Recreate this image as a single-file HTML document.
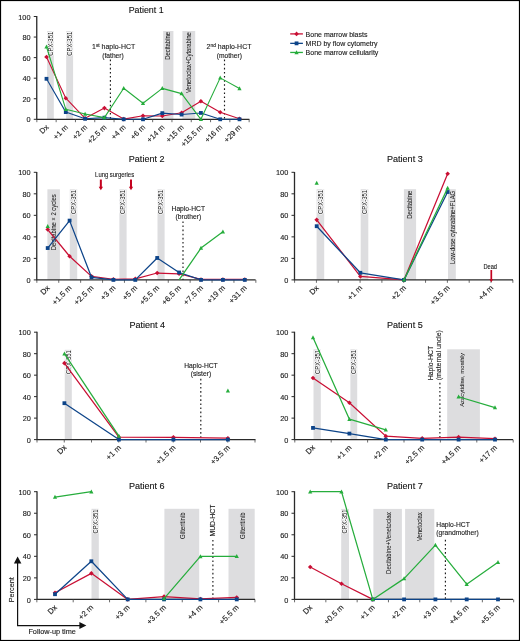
<!DOCTYPE html>
<html><head><meta charset="utf-8"><style>
html,body{margin:0;padding:0;background:#fff;}
svg{display:block;font-family:"Liberation Sans", sans-serif;filter:blur(0.3px);}
text{stroke:#1a1a1a;stroke-width:0.12px;}
text.bt{stroke-width:0.04px;}
text.halo{stroke:#fff;stroke-width:1.6px;stroke-linejoin:round;}
</style></head><body>
<svg width="520" height="641" viewBox="0 0 520 641">
<rect x="0" y="0" width="520" height="641" fill="#fff"/>
<rect x="47.1" y="31" width="6.7" height="88.3" fill="#dddddf"/>
<rect x="66.2" y="31" width="6.9" height="88.3" fill="#dddddf"/>
<rect x="163.2" y="31" width="10.2" height="88.3" fill="#dddddf"/>
<rect x="182.4" y="31" width="12.8" height="88.3" fill="#dddddf"/>
<text class="halo" transform="translate(50.9 31.8) rotate(-90) scale(0.89 1)" text-anchor="end" font-size="6.63" dy="0.36em" fill="#fff">CPX-351</text>
<text class="bt" transform="translate(50.9 31.8) rotate(-90) scale(0.89 1)" text-anchor="end" font-size="6.63" dy="0.36em" fill="#1a1a1a">CPX-351</text>
<text class="halo" transform="translate(69.6 31.8) rotate(-90) scale(0.89 1)" text-anchor="end" font-size="6.63" dy="0.36em" fill="#fff">CPX-351</text>
<text class="bt" transform="translate(69.6 31.8) rotate(-90) scale(0.89 1)" text-anchor="end" font-size="6.63" dy="0.36em" fill="#1a1a1a">CPX-351</text>
<text class="bt" transform="translate(168 32) rotate(-90) scale(0.89 1)" text-anchor="end" font-size="6.63" dy="0.36em" fill="#1a1a1a">Decitabine</text>
<text class="bt" transform="translate(188.8 32.3) rotate(-90) scale(0.89 1)" text-anchor="end" font-size="6.63" dy="0.36em" fill="#1a1a1a">Venetoclax+Cytarabine</text>
<line x1="110.4" y1="59.6" x2="110.4" y2="119.3" stroke="#1a1a1a" stroke-width="1.15" stroke-dasharray="1.6 2.5"/>
<line x1="224.5" y1="59.6" x2="224.5" y2="119.3" stroke="#1a1a1a" stroke-width="1.15" stroke-dasharray="1.6 2.5"/>
<path d="M36.75 16.1V119.3H249.4" fill="none" stroke="#2a2a2a" stroke-width="1.3"/>
<line x1="33.75" y1="119.3" x2="36.75" y2="119.3" stroke="#2a2a2a" stroke-width="1"/>
<text x="30.55" y="122.45" text-anchor="end" font-size="7.35" fill="#1a1a1a">0</text>
<line x1="33.75" y1="98.74" x2="36.75" y2="98.74" stroke="#2a2a2a" stroke-width="1"/>
<text x="30.55" y="101.89" text-anchor="end" font-size="7.35" fill="#1a1a1a">20</text>
<line x1="33.75" y1="78.18" x2="36.75" y2="78.18" stroke="#2a2a2a" stroke-width="1"/>
<text x="30.55" y="81.33" text-anchor="end" font-size="7.35" fill="#1a1a1a">40</text>
<line x1="33.75" y1="57.62" x2="36.75" y2="57.62" stroke="#2a2a2a" stroke-width="1"/>
<text x="30.55" y="60.77" text-anchor="end" font-size="7.35" fill="#1a1a1a">60</text>
<line x1="33.75" y1="37.06" x2="36.75" y2="37.06" stroke="#2a2a2a" stroke-width="1"/>
<text x="30.55" y="40.21" text-anchor="end" font-size="7.35" fill="#1a1a1a">80</text>
<line x1="33.75" y1="16.5" x2="36.75" y2="16.5" stroke="#2a2a2a" stroke-width="1"/>
<text x="30.55" y="19.65" text-anchor="end" font-size="7.35" fill="#1a1a1a">100</text>
<line x1="36.85" y1="119.3" x2="36.85" y2="122.2" stroke="#444" stroke-width="0.8"/>
<line x1="56.15" y1="119.3" x2="56.15" y2="122.2" stroke="#444" stroke-width="0.8"/>
<line x1="75.45" y1="119.3" x2="75.45" y2="122.2" stroke="#444" stroke-width="0.8"/>
<line x1="94.75" y1="119.3" x2="94.75" y2="122.2" stroke="#444" stroke-width="0.8"/>
<line x1="114.05" y1="119.3" x2="114.05" y2="122.2" stroke="#444" stroke-width="0.8"/>
<line x1="133.35" y1="119.3" x2="133.35" y2="122.2" stroke="#444" stroke-width="0.8"/>
<line x1="152.65" y1="119.3" x2="152.65" y2="122.2" stroke="#444" stroke-width="0.8"/>
<line x1="171.95" y1="119.3" x2="171.95" y2="122.2" stroke="#444" stroke-width="0.8"/>
<line x1="191.25" y1="119.3" x2="191.25" y2="122.2" stroke="#444" stroke-width="0.8"/>
<line x1="210.55" y1="119.3" x2="210.55" y2="122.2" stroke="#444" stroke-width="0.8"/>
<line x1="229.85" y1="119.3" x2="229.85" y2="122.2" stroke="#444" stroke-width="0.8"/>
<line x1="249.15" y1="119.3" x2="249.15" y2="122.2" stroke="#444" stroke-width="0.8"/>
<text transform="translate(49.1 127.8) rotate(-45)" text-anchor="end" font-size="7.6" fill="#1a1a1a">Dx</text>
<text transform="translate(68.4 127.8) rotate(-45)" text-anchor="end" font-size="7.6" fill="#1a1a1a">+1 m</text>
<text transform="translate(87.7 127.8) rotate(-45)" text-anchor="end" font-size="7.6" fill="#1a1a1a">+2 m</text>
<text transform="translate(107 127.8) rotate(-45)" text-anchor="end" font-size="7.6" fill="#1a1a1a">+2.5 m</text>
<text transform="translate(126.3 127.8) rotate(-45)" text-anchor="end" font-size="7.6" fill="#1a1a1a">+4 m</text>
<text transform="translate(145.6 127.8) rotate(-45)" text-anchor="end" font-size="7.6" fill="#1a1a1a">+6 m</text>
<text transform="translate(164.9 127.8) rotate(-45)" text-anchor="end" font-size="7.6" fill="#1a1a1a">+14 m</text>
<text transform="translate(184.2 127.8) rotate(-45)" text-anchor="end" font-size="7.6" fill="#1a1a1a">+15 m</text>
<text transform="translate(203.5 127.8) rotate(-45)" text-anchor="end" font-size="7.6" fill="#1a1a1a">+15.5 m</text>
<text transform="translate(222.8 127.8) rotate(-45)" text-anchor="end" font-size="7.6" fill="#1a1a1a">+16 m</text>
<text transform="translate(242.1 127.8) rotate(-45)" text-anchor="end" font-size="7.6" fill="#1a1a1a">+29 m</text>
<path d="M46.5 57L65.8 98.23L85.1 118.27L104.4 108.09L123.7 119.09L143 115.7L162.3 116.01L181.6 112.82L200.9 101.21L220.2 112.21L239.5 118.79" fill="none" stroke="#c90f34" stroke-width="1.1" stroke-linejoin="round"/>
<path d="M46.5 54.7L48.8 57L46.5 59.3L44.2 57Z" fill="#c90f34"/>
<path d="M65.8 95.93L68.1 98.23L65.8 100.53L63.5 98.23Z" fill="#c90f34"/>
<path d="M85.1 115.97L87.4 118.27L85.1 120.57L82.8 118.27Z" fill="#c90f34"/>
<path d="M104.4 105.79L106.7 108.09L104.4 110.39L102.1 108.09Z" fill="#c90f34"/>
<path d="M123.7 116.79L126 119.09L123.7 121.39L121.4 119.09Z" fill="#c90f34"/>
<path d="M143 113.4L145.3 115.7L143 118L140.7 115.7Z" fill="#c90f34"/>
<path d="M162.3 113.71L164.6 116.01L162.3 118.31L160 116.01Z" fill="#c90f34"/>
<path d="M181.6 110.52L183.9 112.82L181.6 115.12L179.3 112.82Z" fill="#c90f34"/>
<path d="M200.9 98.91L203.2 101.21L200.9 103.51L198.6 101.21Z" fill="#c90f34"/>
<path d="M220.2 109.91L222.5 112.21L220.2 114.51L217.9 112.21Z" fill="#c90f34"/>
<path d="M239.5 116.49L241.8 118.79L239.5 121.09L237.2 118.79Z" fill="#c90f34"/>
<path d="M46.5 78.8L65.8 112.1L85.1 118.79L104.4 117.66L123.7 119.3L143 119.3L162.3 113.13L181.6 114.57L200.9 112.93L220.2 119.3L239.5 119.3" fill="none" stroke="#0d4489" stroke-width="1.1" stroke-linejoin="round"/>
<rect x="44.6" y="76.9" width="3.8" height="3.8" fill="#0d4489"/>
<rect x="63.9" y="110.2" width="3.8" height="3.8" fill="#0d4489"/>
<rect x="83.2" y="116.89" width="3.8" height="3.8" fill="#0d4489"/>
<rect x="102.5" y="115.76" width="3.8" height="3.8" fill="#0d4489"/>
<rect x="121.8" y="117.4" width="3.8" height="3.8" fill="#0d4489"/>
<rect x="141.1" y="117.4" width="3.8" height="3.8" fill="#0d4489"/>
<rect x="160.4" y="111.23" width="3.8" height="3.8" fill="#0d4489"/>
<rect x="179.7" y="112.67" width="3.8" height="3.8" fill="#0d4489"/>
<rect x="199" y="111.03" width="3.8" height="3.8" fill="#0d4489"/>
<rect x="218.3" y="117.4" width="3.8" height="3.8" fill="#0d4489"/>
<rect x="237.6" y="117.4" width="3.8" height="3.8" fill="#0d4489"/>
<path d="M46.5 46.72L65.8 109.33L85.1 114.06L104.4 117.66L123.7 88.25L143 103.26L162.3 88.36L181.6 93.6L200.9 119.3L220.2 77.87L239.5 88.46" fill="none" stroke="#26ad3c" stroke-width="1.1" stroke-linejoin="round"/>
<path d="M46.5 44.42L48.6 48.42L44.4 48.42Z" fill="#26ad3c"/>
<path d="M65.8 107.03L67.9 111.03L63.7 111.03Z" fill="#26ad3c"/>
<path d="M85.1 111.76L87.2 115.76L83 115.76Z" fill="#26ad3c"/>
<path d="M104.4 115.36L106.5 119.36L102.3 119.36Z" fill="#26ad3c"/>
<path d="M123.7 85.95L125.8 89.95L121.6 89.95Z" fill="#26ad3c"/>
<path d="M143 100.96L145.1 104.96L140.9 104.96Z" fill="#26ad3c"/>
<path d="M162.3 86.06L164.4 90.06L160.2 90.06Z" fill="#26ad3c"/>
<path d="M181.6 91.3L183.7 95.3L179.5 95.3Z" fill="#26ad3c"/>
<path d="M200.9 117L203 121L198.8 121Z" fill="#26ad3c"/>
<path d="M220.2 75.57L222.3 79.57L218.1 79.57Z" fill="#26ad3c"/>
<path d="M239.5 86.16L241.6 90.16L237.4 90.16Z" fill="#26ad3c"/>
<text x="128.7" y="13.1" font-size="8.85" fill="#111">Patient 1</text>
<text x="113.6" y="49.1" text-anchor="middle" font-size="6.95" fill="#1a1a1a">1<tspan font-size="4.9" dy="-2.5">st</tspan><tspan dy="2.5"> haplo-HCT</tspan></text>
<text x="113" y="57.5" text-anchor="middle" font-size="6.7" fill="#1a1a1a">(father)</text>
<text x="229" y="49.1" text-anchor="middle" font-size="6.95" fill="#1a1a1a">2<tspan font-size="4.9" dy="-2.5">nd</tspan><tspan dy="2.5"> haplo-HCT</tspan></text>
<text x="229.3" y="57.5" text-anchor="middle" font-size="6.7" fill="#1a1a1a">(mother)</text>
<rect x="47.4" y="189.3" width="12.5" height="90.6" fill="#dddddf"/>
<rect x="69.8" y="189.3" width="7.4" height="90.6" fill="#dddddf"/>
<rect x="119.4" y="189.3" width="7.2" height="90.6" fill="#dddddf"/>
<rect x="157.5" y="189.3" width="7.1" height="90.6" fill="#dddddf"/>
<text class="bt" transform="translate(53.4 194.3) rotate(-90) scale(0.89 1)" text-anchor="end" font-size="6.63" dy="0.36em" fill="#1a1a1a">Decitabine × 2 cycles</text>
<text class="halo" transform="translate(73.5 190) rotate(-90) scale(0.89 1)" text-anchor="end" font-size="6.63" dy="0.36em" fill="#fff">CPX-351</text>
<text class="bt" transform="translate(73.5 190) rotate(-90) scale(0.89 1)" text-anchor="end" font-size="6.63" dy="0.36em" fill="#1a1a1a">CPX-351</text>
<text class="halo" transform="translate(123 190) rotate(-90) scale(0.89 1)" text-anchor="end" font-size="6.63" dy="0.36em" fill="#fff">CPX-351</text>
<text class="bt" transform="translate(123 190) rotate(-90) scale(0.89 1)" text-anchor="end" font-size="6.63" dy="0.36em" fill="#1a1a1a">CPX-351</text>
<text class="halo" transform="translate(161.1 190) rotate(-90) scale(0.89 1)" text-anchor="end" font-size="6.63" dy="0.36em" fill="#fff">CPX-351</text>
<text class="bt" transform="translate(161.1 190) rotate(-90) scale(0.89 1)" text-anchor="end" font-size="6.63" dy="0.36em" fill="#1a1a1a">CPX-351</text>
<line x1="183" y1="221.4" x2="183" y2="279.9" stroke="#1a1a1a" stroke-width="1.15" stroke-dasharray="1.6 2.5"/>
<path d="M36.75 171.9V279.9H255.6" fill="none" stroke="#2a2a2a" stroke-width="1.3"/>
<line x1="33.75" y1="279.9" x2="36.75" y2="279.9" stroke="#2a2a2a" stroke-width="1"/>
<text x="30.55" y="283.05" text-anchor="end" font-size="7.35" fill="#1a1a1a">0</text>
<line x1="33.75" y1="258.38" x2="36.75" y2="258.38" stroke="#2a2a2a" stroke-width="1"/>
<text x="30.55" y="261.53" text-anchor="end" font-size="7.35" fill="#1a1a1a">20</text>
<line x1="33.75" y1="236.86" x2="36.75" y2="236.86" stroke="#2a2a2a" stroke-width="1"/>
<text x="30.55" y="240.01" text-anchor="end" font-size="7.35" fill="#1a1a1a">40</text>
<line x1="33.75" y1="215.34" x2="36.75" y2="215.34" stroke="#2a2a2a" stroke-width="1"/>
<text x="30.55" y="218.49" text-anchor="end" font-size="7.35" fill="#1a1a1a">60</text>
<line x1="33.75" y1="193.82" x2="36.75" y2="193.82" stroke="#2a2a2a" stroke-width="1"/>
<text x="30.55" y="196.97" text-anchor="end" font-size="7.35" fill="#1a1a1a">80</text>
<line x1="33.75" y1="172.3" x2="36.75" y2="172.3" stroke="#2a2a2a" stroke-width="1"/>
<text x="30.55" y="175.45" text-anchor="end" font-size="7.35" fill="#1a1a1a">100</text>
<line x1="36.85" y1="279.9" x2="36.85" y2="282.8" stroke="#444" stroke-width="0.8"/>
<line x1="58.75" y1="279.9" x2="58.75" y2="282.8" stroke="#444" stroke-width="0.8"/>
<line x1="80.65" y1="279.9" x2="80.65" y2="282.8" stroke="#444" stroke-width="0.8"/>
<line x1="102.55" y1="279.9" x2="102.55" y2="282.8" stroke="#444" stroke-width="0.8"/>
<line x1="124.45" y1="279.9" x2="124.45" y2="282.8" stroke="#444" stroke-width="0.8"/>
<line x1="146.35" y1="279.9" x2="146.35" y2="282.8" stroke="#444" stroke-width="0.8"/>
<line x1="168.25" y1="279.9" x2="168.25" y2="282.8" stroke="#444" stroke-width="0.8"/>
<line x1="190.15" y1="279.9" x2="190.15" y2="282.8" stroke="#444" stroke-width="0.8"/>
<line x1="212.05" y1="279.9" x2="212.05" y2="282.8" stroke="#444" stroke-width="0.8"/>
<line x1="233.95" y1="279.9" x2="233.95" y2="282.8" stroke="#444" stroke-width="0.8"/>
<line x1="255.85" y1="279.9" x2="255.85" y2="282.8" stroke="#444" stroke-width="0.8"/>
<text transform="translate(50.3 288.4) rotate(-45)" text-anchor="end" font-size="7.8" fill="#1a1a1a">Dx</text>
<text transform="translate(72.2 288.4) rotate(-45)" text-anchor="end" font-size="7.8" fill="#1a1a1a">+1.5 m</text>
<text transform="translate(94.1 288.4) rotate(-45)" text-anchor="end" font-size="7.8" fill="#1a1a1a">+2.5 m</text>
<text transform="translate(116 288.4) rotate(-45)" text-anchor="end" font-size="7.8" fill="#1a1a1a">+3 m</text>
<text transform="translate(137.9 288.4) rotate(-45)" text-anchor="end" font-size="7.8" fill="#1a1a1a">+5 m</text>
<text transform="translate(159.8 288.4) rotate(-45)" text-anchor="end" font-size="7.8" fill="#1a1a1a">+5.5 m</text>
<text transform="translate(181.7 288.4) rotate(-45)" text-anchor="end" font-size="7.8" fill="#1a1a1a">+6.5 m</text>
<text transform="translate(203.6 288.4) rotate(-45)" text-anchor="end" font-size="7.8" fill="#1a1a1a">+7.5 m</text>
<text transform="translate(225.5 288.4) rotate(-45)" text-anchor="end" font-size="7.8" fill="#1a1a1a">+19 m</text>
<text transform="translate(247.4 288.4) rotate(-45)" text-anchor="end" font-size="7.8" fill="#1a1a1a">+31 m</text>
<path d="M47.7 229.54L69.6 256.23L91.5 276.35L113.4 279.25L135.3 278.82L157.2 273.01L179.1 273.77L201 279.47L222.9 279.47L244.8 279.47" fill="none" stroke="#c90f34" stroke-width="1.25" stroke-linejoin="round"/>
<path d="M47.7 227.24L50 229.54L47.7 231.84L45.4 229.54Z" fill="#c90f34"/>
<path d="M69.6 253.93L71.9 256.23L69.6 258.53L67.3 256.23Z" fill="#c90f34"/>
<path d="M91.5 274.05L93.8 276.35L91.5 278.65L89.2 276.35Z" fill="#c90f34"/>
<path d="M113.4 276.95L115.7 279.25L113.4 281.55L111.1 279.25Z" fill="#c90f34"/>
<path d="M135.3 276.52L137.6 278.82L135.3 281.12L133 278.82Z" fill="#c90f34"/>
<path d="M157.2 270.71L159.5 273.01L157.2 275.31L154.9 273.01Z" fill="#c90f34"/>
<path d="M179.1 271.47L181.4 273.77L179.1 276.07L176.8 273.77Z" fill="#c90f34"/>
<path d="M201 277.17L203.3 279.47L201 281.77L198.7 279.47Z" fill="#c90f34"/>
<path d="M222.9 277.17L225.2 279.47L222.9 281.77L220.6 279.47Z" fill="#c90f34"/>
<path d="M244.8 277.17L247.1 279.47L244.8 281.77L242.5 279.47Z" fill="#c90f34"/>
<path d="M47.7 248.05L69.6 220.61L91.5 277.32L113.4 279.9L135.3 279.9L157.2 257.95L179.1 272.48L201 279.9L222.9 279.9L244.8 279.9" fill="none" stroke="#0d4489" stroke-width="1.25" stroke-linejoin="round"/>
<rect x="45.8" y="246.15" width="3.8" height="3.8" fill="#0d4489"/>
<rect x="67.7" y="218.71" width="3.8" height="3.8" fill="#0d4489"/>
<rect x="89.6" y="275.42" width="3.8" height="3.8" fill="#0d4489"/>
<rect x="111.5" y="278" width="3.8" height="3.8" fill="#0d4489"/>
<rect x="133.4" y="278" width="3.8" height="3.8" fill="#0d4489"/>
<rect x="155.3" y="256.05" width="3.8" height="3.8" fill="#0d4489"/>
<rect x="177.2" y="270.58" width="3.8" height="3.8" fill="#0d4489"/>
<rect x="199.1" y="278" width="3.8" height="3.8" fill="#0d4489"/>
<rect x="221" y="278" width="3.8" height="3.8" fill="#0d4489"/>
<rect x="242.9" y="278" width="3.8" height="3.8" fill="#0d4489"/>
<path d="M179.1 279.9L201 248.05L222.9 231.8" fill="none" stroke="#26ad3c" stroke-width="1.25" stroke-linejoin="round"/>
<path d="M47.7 224.02L49.8 228.02L45.6 228.02Z" fill="#26ad3c"/>
<path d="M201 245.75L203.1 249.75L198.9 249.75Z" fill="#26ad3c"/>
<path d="M222.9 229.5L225 233.5L220.8 233.5Z" fill="#26ad3c"/>
<text x="128.8" y="162.4" font-size="9.05" fill="#111">Patient 2</text>
<text transform="translate(114.6 177.1) scale(0.89 1)" text-anchor="middle" font-size="6.63" fill="#1a1a1a">Lung surgeries</text>
<line x1="100.85" y1="179.5" x2="100.85" y2="187.1" stroke="#c4021f" stroke-width="2.0"/><path d="M98.7 186.8L103 186.8L100.85 190.3Z" fill="#c4021f"/>
<line x1="131" y1="179.5" x2="131" y2="187.1" stroke="#c4021f" stroke-width="2.0"/><path d="M128.85 186.8L133.15 186.8L131 190.3Z" fill="#c4021f"/>
<text x="188.3" y="210.6" text-anchor="middle" font-size="6.7" fill="#1a1a1a">Haplo-HCT</text>
<text x="188.3" y="219" text-anchor="middle" font-size="6.7" fill="#1a1a1a">(brother)</text>
<rect x="316.6" y="189.2" width="7.6" height="90.7" fill="#dddddf"/>
<rect x="360.7" y="189.2" width="7.6" height="90.7" fill="#dddddf"/>
<rect x="403.9" y="189.2" width="12.2" height="90.7" fill="#dddddf"/>
<rect x="448" y="189.2" width="7.8" height="90.7" fill="#dddddf"/>
<text class="halo" transform="translate(320.4 190) rotate(-90) scale(0.89 1)" text-anchor="end" font-size="6.63" dy="0.36em" fill="#fff">CPX-351</text>
<text class="bt" transform="translate(320.4 190) rotate(-90) scale(0.89 1)" text-anchor="end" font-size="6.63" dy="0.36em" fill="#1a1a1a">CPX-351</text>
<text class="halo" transform="translate(364.5 190) rotate(-90) scale(0.89 1)" text-anchor="end" font-size="6.63" dy="0.36em" fill="#fff">CPX-351</text>
<text class="bt" transform="translate(364.5 190) rotate(-90) scale(0.89 1)" text-anchor="end" font-size="6.63" dy="0.36em" fill="#1a1a1a">CPX-351</text>
<text class="bt" transform="translate(410 190.8) rotate(-90) scale(0.89 1)" text-anchor="end" font-size="6.63" dy="0.36em" fill="#1a1a1a">Decitabine</text>
<text class="bt" transform="translate(452.3 190.8) rotate(-90) scale(0.89 1)" text-anchor="end" font-size="6.63" dy="0.36em" fill="#1a1a1a">Low-dose cytarabine+FLAG</text>
<path d="M294.5 171.9V279.9H513" fill="none" stroke="#2a2a2a" stroke-width="1.3"/>
<line x1="291.5" y1="279.9" x2="294.5" y2="279.9" stroke="#2a2a2a" stroke-width="1"/>
<text x="288.3" y="283.05" text-anchor="end" font-size="7.35" fill="#1a1a1a">0</text>
<line x1="291.5" y1="258.38" x2="294.5" y2="258.38" stroke="#2a2a2a" stroke-width="1"/>
<text x="288.3" y="261.53" text-anchor="end" font-size="7.35" fill="#1a1a1a">20</text>
<line x1="291.5" y1="236.86" x2="294.5" y2="236.86" stroke="#2a2a2a" stroke-width="1"/>
<text x="288.3" y="240.01" text-anchor="end" font-size="7.35" fill="#1a1a1a">40</text>
<line x1="291.5" y1="215.34" x2="294.5" y2="215.34" stroke="#2a2a2a" stroke-width="1"/>
<text x="288.3" y="218.49" text-anchor="end" font-size="7.35" fill="#1a1a1a">60</text>
<line x1="291.5" y1="193.82" x2="294.5" y2="193.82" stroke="#2a2a2a" stroke-width="1"/>
<text x="288.3" y="196.97" text-anchor="end" font-size="7.35" fill="#1a1a1a">80</text>
<line x1="291.5" y1="172.3" x2="294.5" y2="172.3" stroke="#2a2a2a" stroke-width="1"/>
<text x="288.3" y="175.45" text-anchor="end" font-size="7.35" fill="#1a1a1a">100</text>
<line x1="294.6" y1="279.9" x2="294.6" y2="282.8" stroke="#444" stroke-width="0.8"/>
<line x1="316.43" y1="279.9" x2="316.43" y2="282.8" stroke="#444" stroke-width="0.8"/>
<line x1="338.25" y1="279.9" x2="338.25" y2="282.8" stroke="#444" stroke-width="0.8"/>
<line x1="360.08" y1="279.9" x2="360.08" y2="282.8" stroke="#444" stroke-width="0.8"/>
<line x1="381.9" y1="279.9" x2="381.9" y2="282.8" stroke="#444" stroke-width="0.8"/>
<line x1="403.73" y1="279.9" x2="403.73" y2="282.8" stroke="#444" stroke-width="0.8"/>
<line x1="425.55" y1="279.9" x2="425.55" y2="282.8" stroke="#444" stroke-width="0.8"/>
<line x1="447.38" y1="279.9" x2="447.38" y2="282.8" stroke="#444" stroke-width="0.8"/>
<line x1="469.2" y1="279.9" x2="469.2" y2="282.8" stroke="#444" stroke-width="0.8"/>
<line x1="491.02" y1="279.9" x2="491.02" y2="282.8" stroke="#444" stroke-width="0.8"/>
<line x1="512.85" y1="279.9" x2="512.85" y2="282.8" stroke="#444" stroke-width="0.8"/>
<text transform="translate(319.3 288.4) rotate(-45)" text-anchor="end" font-size="7.8" fill="#1a1a1a">Dx</text>
<text transform="translate(362.95 288.4) rotate(-45)" text-anchor="end" font-size="7.8" fill="#1a1a1a">+1 m</text>
<text transform="translate(406.6 288.4) rotate(-45)" text-anchor="end" font-size="7.8" fill="#1a1a1a">+2 m</text>
<text transform="translate(450.25 288.4) rotate(-45)" text-anchor="end" font-size="7.8" fill="#1a1a1a">+3.5 m</text>
<text transform="translate(493.9 288.4) rotate(-45)" text-anchor="end" font-size="7.8" fill="#1a1a1a">+4 m</text>
<path d="M316.7 219.86L360.35 276.46L404 279.9L447.65 173.81" fill="none" stroke="#c90f34" stroke-width="1.25" stroke-linejoin="round"/>
<path d="M316.7 217.56L319 219.86L316.7 222.16L314.4 219.86Z" fill="#c90f34"/>
<path d="M360.35 274.16L362.65 276.46L360.35 278.76L358.05 276.46Z" fill="#c90f34"/>
<path d="M404 277.6L406.3 279.9L404 282.2L401.7 279.9Z" fill="#c90f34"/>
<path d="M447.65 171.51L449.95 173.81L447.65 176.11L445.35 173.81Z" fill="#c90f34"/>
<path d="M316.7 226.21L360.35 272.8L404 279.9L447.65 191.99" fill="none" stroke="#0d4489" stroke-width="1.25" stroke-linejoin="round"/>
<rect x="314.8" y="224.31" width="3.8" height="3.8" fill="#0d4489"/>
<rect x="358.45" y="270.9" width="3.8" height="3.8" fill="#0d4489"/>
<rect x="402.1" y="278" width="3.8" height="3.8" fill="#0d4489"/>
<rect x="445.75" y="190.09" width="3.8" height="3.8" fill="#0d4489"/>
<path d="M404 279.9L447.65 188.12" fill="none" stroke="#26ad3c" stroke-width="1.25" stroke-linejoin="round"/>
<path d="M316.7 180.76L318.8 184.76L314.6 184.76Z" fill="#26ad3c"/>
<path d="M404 277.6L406.1 281.6L401.9 281.6Z" fill="#26ad3c"/>
<path d="M447.65 185.82L449.75 189.82L445.55 189.82Z" fill="#26ad3c"/>
<text x="387" y="162.4" font-size="9.05" fill="#111">Patient 3</text>
<text transform="translate(490.2 268.8) scale(0.89 1)" text-anchor="middle" font-size="6.4" fill="#1a1a1a">Dead</text>
<line x1="491.3" y1="270" x2="491.3" y2="279.5" stroke="#c4021f" stroke-width="1.7"/><path d="M489.4 279.2L493.2 279.2L491.3 282.2Z" fill="#c4021f"/>
<rect x="64.75" y="349.8" width="7.05" height="89.8" fill="#dddddf"/>
<text class="halo" transform="translate(68.3 350.2) rotate(-90) scale(0.89 1)" text-anchor="end" font-size="6.63" dy="0.36em" fill="#fff">CPX-351</text>
<text class="bt" transform="translate(68.3 350.2) rotate(-90) scale(0.89 1)" text-anchor="end" font-size="6.63" dy="0.36em" fill="#1a1a1a">CPX-351</text>
<line x1="200.8" y1="378.8" x2="200.8" y2="439.6" stroke="#1a1a1a" stroke-width="1.15" stroke-dasharray="1.6 2.5"/>
<path d="M37 331.8V439.6H255.5" fill="none" stroke="#2a2a2a" stroke-width="1.3"/>
<line x1="34" y1="439.6" x2="37" y2="439.6" stroke="#2a2a2a" stroke-width="1"/>
<text x="30.8" y="442.75" text-anchor="end" font-size="7.35" fill="#1a1a1a">0</text>
<line x1="34" y1="418.12" x2="37" y2="418.12" stroke="#2a2a2a" stroke-width="1"/>
<text x="30.8" y="421.27" text-anchor="end" font-size="7.35" fill="#1a1a1a">20</text>
<line x1="34" y1="396.64" x2="37" y2="396.64" stroke="#2a2a2a" stroke-width="1"/>
<text x="30.8" y="399.79" text-anchor="end" font-size="7.35" fill="#1a1a1a">40</text>
<line x1="34" y1="375.16" x2="37" y2="375.16" stroke="#2a2a2a" stroke-width="1"/>
<text x="30.8" y="378.31" text-anchor="end" font-size="7.35" fill="#1a1a1a">60</text>
<line x1="34" y1="353.68" x2="37" y2="353.68" stroke="#2a2a2a" stroke-width="1"/>
<text x="30.8" y="356.83" text-anchor="end" font-size="7.35" fill="#1a1a1a">80</text>
<line x1="34" y1="332.2" x2="37" y2="332.2" stroke="#2a2a2a" stroke-width="1"/>
<text x="30.8" y="335.35" text-anchor="end" font-size="7.35" fill="#1a1a1a">100</text>
<line x1="37" y1="439.6" x2="37" y2="442.5" stroke="#444" stroke-width="0.8"/>
<line x1="64.25" y1="439.6" x2="64.25" y2="442.5" stroke="#444" stroke-width="0.8"/>
<line x1="91.5" y1="439.6" x2="91.5" y2="442.5" stroke="#444" stroke-width="0.8"/>
<line x1="118.75" y1="439.6" x2="118.75" y2="442.5" stroke="#444" stroke-width="0.8"/>
<line x1="146" y1="439.6" x2="146" y2="442.5" stroke="#444" stroke-width="0.8"/>
<line x1="173.25" y1="439.6" x2="173.25" y2="442.5" stroke="#444" stroke-width="0.8"/>
<line x1="200.5" y1="439.6" x2="200.5" y2="442.5" stroke="#444" stroke-width="0.8"/>
<line x1="227.75" y1="439.6" x2="227.75" y2="442.5" stroke="#444" stroke-width="0.8"/>
<line x1="255" y1="439.6" x2="255" y2="442.5" stroke="#444" stroke-width="0.8"/>
<text transform="translate(67 448.1) rotate(-45)" text-anchor="end" font-size="7.8" fill="#1a1a1a">Dx</text>
<text transform="translate(121.5 448.1) rotate(-45)" text-anchor="end" font-size="7.8" fill="#1a1a1a">+1 m</text>
<text transform="translate(176 448.1) rotate(-45)" text-anchor="end" font-size="7.8" fill="#1a1a1a">+1.5 m</text>
<text transform="translate(230.5 448.1) rotate(-45)" text-anchor="end" font-size="7.8" fill="#1a1a1a">+3.5 m</text>
<path d="M64.4 363.13L118.9 437.24L173.4 437.34L227.9 438.2" fill="none" stroke="#c90f34" stroke-width="1.25" stroke-linejoin="round"/>
<path d="M64.4 360.83L66.7 363.13L64.4 365.43L62.1 363.13Z" fill="#c90f34"/>
<path d="M118.9 434.94L121.2 437.24L118.9 439.54L116.6 437.24Z" fill="#c90f34"/>
<path d="M173.4 435.04L175.7 437.34L173.4 439.64L171.1 437.34Z" fill="#c90f34"/>
<path d="M227.9 435.9L230.2 438.2L227.9 440.5L225.6 438.2Z" fill="#c90f34"/>
<path d="M64.4 403.19L118.9 439.6L173.4 439.6L227.9 439.6" fill="none" stroke="#0d4489" stroke-width="1.25" stroke-linejoin="round"/>
<rect x="62.5" y="401.29" width="3.8" height="3.8" fill="#0d4489"/>
<rect x="117" y="437.7" width="3.8" height="3.8" fill="#0d4489"/>
<rect x="171.5" y="437.7" width="3.8" height="3.8" fill="#0d4489"/>
<rect x="226" y="437.7" width="3.8" height="3.8" fill="#0d4489"/>
<path d="M64.4 353.68L118.9 436.16" fill="none" stroke="#26ad3c" stroke-width="1.25" stroke-linejoin="round"/>
<path d="M64.4 351.38L66.5 355.38L62.3 355.38Z" fill="#26ad3c"/>
<path d="M118.9 433.86L121 437.86L116.8 437.86Z" fill="#26ad3c"/>
<path d="M227.9 388.54L230 392.54L225.8 392.54Z" fill="#26ad3c"/>
<text x="129.4" y="328.4" font-size="9.05" fill="#111">Patient 4</text>
<text x="201" y="368.1" text-anchor="middle" font-size="6.7" fill="#1a1a1a">Haplo-HCT</text>
<text x="200.9" y="376.3" text-anchor="middle" font-size="6.7" fill="#1a1a1a">(sister)</text>
<rect x="313.5" y="349.3" width="7.3" height="90.3" fill="#dddddf"/>
<rect x="350.4" y="349.3" width="6.8" height="90.3" fill="#dddddf"/>
<rect x="447.2" y="349.3" width="32.7" height="90.3" fill="#dddddf"/>
<text class="halo" transform="translate(317.2 350) rotate(-90) scale(0.89 1)" text-anchor="end" font-size="6.63" dy="0.36em" fill="#fff">CPX-351</text>
<text class="bt" transform="translate(317.2 350) rotate(-90) scale(0.89 1)" text-anchor="end" font-size="6.63" dy="0.36em" fill="#1a1a1a">CPX-351</text>
<text class="halo" transform="translate(353.8 350) rotate(-90) scale(0.89 1)" text-anchor="end" font-size="6.63" dy="0.36em" fill="#fff">CPX-351</text>
<text class="bt" transform="translate(353.8 350) rotate(-90) scale(0.89 1)" text-anchor="end" font-size="6.63" dy="0.36em" fill="#1a1a1a">CPX-351</text>
<text class="bt" transform="translate(462.1 353.2) rotate(-90) scale(1.0 1)" text-anchor="end" font-size="5.85" dy="0.36em" fill="#1a1a1a">Azacytidine, monthly</text>
<line x1="439.9" y1="382.8" x2="439.9" y2="439.6" stroke="#1a1a1a" stroke-width="1.15" stroke-dasharray="1.6 2.5"/>
<path d="M294.5 331.8V439.6H513" fill="none" stroke="#2a2a2a" stroke-width="1.3"/>
<line x1="291.5" y1="439.6" x2="294.5" y2="439.6" stroke="#2a2a2a" stroke-width="1"/>
<text x="288.3" y="442.75" text-anchor="end" font-size="7.35" fill="#1a1a1a">0</text>
<line x1="291.5" y1="418.12" x2="294.5" y2="418.12" stroke="#2a2a2a" stroke-width="1"/>
<text x="288.3" y="421.27" text-anchor="end" font-size="7.35" fill="#1a1a1a">20</text>
<line x1="291.5" y1="396.64" x2="294.5" y2="396.64" stroke="#2a2a2a" stroke-width="1"/>
<text x="288.3" y="399.79" text-anchor="end" font-size="7.35" fill="#1a1a1a">40</text>
<line x1="291.5" y1="375.16" x2="294.5" y2="375.16" stroke="#2a2a2a" stroke-width="1"/>
<text x="288.3" y="378.31" text-anchor="end" font-size="7.35" fill="#1a1a1a">60</text>
<line x1="291.5" y1="353.68" x2="294.5" y2="353.68" stroke="#2a2a2a" stroke-width="1"/>
<text x="288.3" y="356.83" text-anchor="end" font-size="7.35" fill="#1a1a1a">80</text>
<line x1="291.5" y1="332.2" x2="294.5" y2="332.2" stroke="#2a2a2a" stroke-width="1"/>
<text x="288.3" y="335.35" text-anchor="end" font-size="7.35" fill="#1a1a1a">100</text>
<line x1="294.8" y1="439.6" x2="294.8" y2="442.5" stroke="#444" stroke-width="0.8"/>
<line x1="331.2" y1="439.6" x2="331.2" y2="442.5" stroke="#444" stroke-width="0.8"/>
<line x1="367.6" y1="439.6" x2="367.6" y2="442.5" stroke="#444" stroke-width="0.8"/>
<line x1="404" y1="439.6" x2="404" y2="442.5" stroke="#444" stroke-width="0.8"/>
<line x1="440.4" y1="439.6" x2="440.4" y2="442.5" stroke="#444" stroke-width="0.8"/>
<line x1="476.8" y1="439.6" x2="476.8" y2="442.5" stroke="#444" stroke-width="0.8"/>
<line x1="513.2" y1="439.6" x2="513.2" y2="442.5" stroke="#444" stroke-width="0.8"/>
<text transform="translate(315.6 448.1) rotate(-45)" text-anchor="end" font-size="7.8" fill="#1a1a1a">Dx</text>
<text transform="translate(352 448.1) rotate(-45)" text-anchor="end" font-size="7.8" fill="#1a1a1a">+1 m</text>
<text transform="translate(388.4 448.1) rotate(-45)" text-anchor="end" font-size="7.8" fill="#1a1a1a">+2 m</text>
<text transform="translate(424.8 448.1) rotate(-45)" text-anchor="end" font-size="7.8" fill="#1a1a1a">+2.5 m</text>
<text transform="translate(461.2 448.1) rotate(-45)" text-anchor="end" font-size="7.8" fill="#1a1a1a">+4.5 m</text>
<text transform="translate(497.6 448.1) rotate(-45)" text-anchor="end" font-size="7.8" fill="#1a1a1a">+17 m</text>
<path d="M313 378.06L349.4 402.76L385.8 436.16L422.2 438.42L458.6 437.13L495 438.74" fill="none" stroke="#c90f34" stroke-width="1.25" stroke-linejoin="round"/>
<path d="M313 375.76L315.3 378.06L313 380.36L310.7 378.06Z" fill="#c90f34"/>
<path d="M349.4 400.46L351.7 402.76L349.4 405.06L347.1 402.76Z" fill="#c90f34"/>
<path d="M385.8 433.86L388.1 436.16L385.8 438.46L383.5 436.16Z" fill="#c90f34"/>
<path d="M422.2 436.12L424.5 438.42L422.2 440.72L419.9 438.42Z" fill="#c90f34"/>
<path d="M458.6 434.83L460.9 437.13L458.6 439.43L456.3 437.13Z" fill="#c90f34"/>
<path d="M495 436.44L497.3 438.74L495 441.04L492.7 438.74Z" fill="#c90f34"/>
<path d="M313 427.89L349.4 433.59L385.8 439.6L422.2 439.6L458.6 439.6L495 439.6" fill="none" stroke="#0d4489" stroke-width="1.25" stroke-linejoin="round"/>
<rect x="311.1" y="425.99" width="3.8" height="3.8" fill="#0d4489"/>
<rect x="347.5" y="431.69" width="3.8" height="3.8" fill="#0d4489"/>
<rect x="383.9" y="437.7" width="3.8" height="3.8" fill="#0d4489"/>
<rect x="420.3" y="437.7" width="3.8" height="3.8" fill="#0d4489"/>
<rect x="456.7" y="437.7" width="3.8" height="3.8" fill="#0d4489"/>
<rect x="493.1" y="437.7" width="3.8" height="3.8" fill="#0d4489"/>
<path d="M313 337.46L349.4 419.19L385.8 429.83" fill="none" stroke="#26ad3c" stroke-width="1.25" stroke-linejoin="round"/>
<path d="M458.6 396.75L495 407.59" fill="none" stroke="#26ad3c" stroke-width="1.25" stroke-linejoin="round"/>
<path d="M313 335.16L315.1 339.16L310.9 339.16Z" fill="#26ad3c"/>
<path d="M349.4 416.89L351.5 420.89L347.3 420.89Z" fill="#26ad3c"/>
<path d="M385.8 427.53L387.9 431.53L383.7 431.53Z" fill="#26ad3c"/>
<path d="M458.6 394.45L460.7 398.45L456.5 398.45Z" fill="#26ad3c"/>
<path d="M495 405.29L497.1 409.29L492.9 409.29Z" fill="#26ad3c"/>
<text x="387" y="328.4" font-size="9.05" fill="#111">Patient 5</text>
<text transform="translate(433.2 380.3) rotate(-90)" text-anchor="start" font-size="6.9" fill="#1a1a1a">Haplo-HCT</text>
<text transform="translate(441 380.3) rotate(-90)" text-anchor="start" font-size="6.95" fill="#1a1a1a">(maternal uncle)</text>
<rect x="91.5" y="508.8" width="7.3" height="90.6" fill="#dddddf"/>
<rect x="164.4" y="508.8" width="34.8" height="90.6" fill="#dddddf"/>
<rect x="228.5" y="508.8" width="26.2" height="90.6" fill="#dddddf"/>
<text class="halo" transform="translate(95.2 509.5) rotate(-90) scale(0.89 1)" text-anchor="end" font-size="6.63" dy="0.36em" fill="#fff">CPX-351</text>
<text class="bt" transform="translate(95.2 509.5) rotate(-90) scale(0.89 1)" text-anchor="end" font-size="6.63" dy="0.36em" fill="#1a1a1a">CPX-351</text>
<text class="bt" transform="translate(182.6 512.4) rotate(-90) scale(0.89 1)" text-anchor="end" font-size="6.74" dy="0.36em" fill="#1a1a1a">Gilteritinib</text>
<text class="bt" transform="translate(242.3 512.4) rotate(-90) scale(0.89 1)" text-anchor="end" font-size="6.74" dy="0.36em" fill="#1a1a1a">Gilteritinib</text>
<line x1="212.9" y1="540" x2="212.9" y2="599.4" stroke="#1a1a1a" stroke-width="1.15" stroke-dasharray="1.6 2.5"/>
<path d="M37 491.3V599.4H255" fill="none" stroke="#2a2a2a" stroke-width="1.3"/>
<line x1="34" y1="599.4" x2="37" y2="599.4" stroke="#2a2a2a" stroke-width="1"/>
<text x="30.8" y="602.55" text-anchor="end" font-size="7.35" fill="#1a1a1a">0</text>
<line x1="34" y1="577.86" x2="37" y2="577.86" stroke="#2a2a2a" stroke-width="1"/>
<text x="30.8" y="581.01" text-anchor="end" font-size="7.35" fill="#1a1a1a">20</text>
<line x1="34" y1="556.32" x2="37" y2="556.32" stroke="#2a2a2a" stroke-width="1"/>
<text x="30.8" y="559.47" text-anchor="end" font-size="7.35" fill="#1a1a1a">40</text>
<line x1="34" y1="534.78" x2="37" y2="534.78" stroke="#2a2a2a" stroke-width="1"/>
<text x="30.8" y="537.93" text-anchor="end" font-size="7.35" fill="#1a1a1a">60</text>
<line x1="34" y1="513.24" x2="37" y2="513.24" stroke="#2a2a2a" stroke-width="1"/>
<text x="30.8" y="516.39" text-anchor="end" font-size="7.35" fill="#1a1a1a">80</text>
<line x1="34" y1="491.7" x2="37" y2="491.7" stroke="#2a2a2a" stroke-width="1"/>
<text x="30.8" y="494.85" text-anchor="end" font-size="7.35" fill="#1a1a1a">100</text>
<line x1="36.85" y1="599.4" x2="36.85" y2="602.3" stroke="#444" stroke-width="0.8"/>
<line x1="73.2" y1="599.4" x2="73.2" y2="602.3" stroke="#444" stroke-width="0.8"/>
<line x1="109.55" y1="599.4" x2="109.55" y2="602.3" stroke="#444" stroke-width="0.8"/>
<line x1="145.9" y1="599.4" x2="145.9" y2="602.3" stroke="#444" stroke-width="0.8"/>
<line x1="182.25" y1="599.4" x2="182.25" y2="602.3" stroke="#444" stroke-width="0.8"/>
<line x1="218.6" y1="599.4" x2="218.6" y2="602.3" stroke="#444" stroke-width="0.8"/>
<line x1="254.95" y1="599.4" x2="254.95" y2="602.3" stroke="#444" stroke-width="0.8"/>
<text transform="translate(57.6 607.9) rotate(-45)" text-anchor="end" font-size="7.8" fill="#1a1a1a">Dx</text>
<text transform="translate(93.95 607.9) rotate(-45)" text-anchor="end" font-size="7.8" fill="#1a1a1a">+2 m</text>
<text transform="translate(130.3 607.9) rotate(-45)" text-anchor="end" font-size="7.8" fill="#1a1a1a">+3 m</text>
<text transform="translate(166.65 607.9) rotate(-45)" text-anchor="end" font-size="7.8" fill="#1a1a1a">+3.5 m</text>
<text transform="translate(203 607.9) rotate(-45)" text-anchor="end" font-size="7.8" fill="#1a1a1a">+4 m</text>
<text transform="translate(239.35 607.9) rotate(-45)" text-anchor="end" font-size="7.8" fill="#1a1a1a">+5.5 m</text>
<path d="M55 592.72L91.35 573.34L127.7 599.4L164.05 596.6L200.4 598.97L236.75 597.46" fill="none" stroke="#c90f34" stroke-width="1.25" stroke-linejoin="round"/>
<path d="M55 590.42L57.3 592.72L55 595.02L52.7 592.72Z" fill="#c90f34"/>
<path d="M91.35 571.04L93.65 573.34L91.35 575.64L89.05 573.34Z" fill="#c90f34"/>
<path d="M127.7 597.1L130 599.4L127.7 601.7L125.4 599.4Z" fill="#c90f34"/>
<path d="M164.05 594.3L166.35 596.6L164.05 598.9L161.75 596.6Z" fill="#c90f34"/>
<path d="M200.4 596.67L202.7 598.97L200.4 601.27L198.1 598.97Z" fill="#c90f34"/>
<path d="M236.75 595.16L239.05 597.46L236.75 599.76L234.45 597.46Z" fill="#c90f34"/>
<path d="M55 594.23L91.35 561.27L127.7 599.4L164.05 599.4L200.4 599.4L236.75 599.4" fill="none" stroke="#0d4489" stroke-width="1.25" stroke-linejoin="round"/>
<rect x="53.1" y="592.33" width="3.8" height="3.8" fill="#0d4489"/>
<rect x="89.45" y="559.37" width="3.8" height="3.8" fill="#0d4489"/>
<rect x="125.8" y="597.5" width="3.8" height="3.8" fill="#0d4489"/>
<rect x="162.15" y="597.5" width="3.8" height="3.8" fill="#0d4489"/>
<rect x="198.5" y="597.5" width="3.8" height="3.8" fill="#0d4489"/>
<rect x="234.85" y="597.5" width="3.8" height="3.8" fill="#0d4489"/>
<path d="M55 497.08L91.35 491.7" fill="none" stroke="#26ad3c" stroke-width="1.25" stroke-linejoin="round"/>
<path d="M164.05 598.54L200.4 556.43L236.75 556.32" fill="none" stroke="#26ad3c" stroke-width="1.25" stroke-linejoin="round"/>
<path d="M55 494.78L57.1 498.78L52.9 498.78Z" fill="#26ad3c"/>
<path d="M91.35 489.4L93.45 493.4L89.25 493.4Z" fill="#26ad3c"/>
<path d="M164.05 596.24L166.15 600.24L161.95 600.24Z" fill="#26ad3c"/>
<path d="M200.4 554.13L202.5 558.13L198.3 558.13Z" fill="#26ad3c"/>
<path d="M236.75 554.02L238.85 558.02L234.65 558.02Z" fill="#26ad3c"/>
<text x="128.9" y="488.6" font-size="9.05" fill="#111">Patient 6</text>
<text transform="translate(214.7 504.6) rotate(-90)" text-anchor="end" font-size="6.85" fill="#1a1a1a">MUD-HCT</text>
<rect x="341.2" y="508.9" width="7.8" height="90.5" fill="#dddddf"/>
<rect x="373.4" y="508.9" width="28.5" height="90.5" fill="#dddddf"/>
<rect x="405.1" y="508.9" width="29.2" height="90.5" fill="#dddddf"/>
<text class="halo" transform="translate(345 509.5) rotate(-90) scale(0.89 1)" text-anchor="end" font-size="6.63" dy="0.36em" fill="#fff">CPX-351</text>
<text class="bt" transform="translate(345 509.5) rotate(-90) scale(0.89 1)" text-anchor="end" font-size="6.63" dy="0.36em" fill="#1a1a1a">CPX-351</text>
<text class="bt" transform="translate(388.2 512.3) rotate(-90) scale(0.89 1)" text-anchor="end" font-size="6.8" dy="0.36em" fill="#1a1a1a">Decitabine+Venetoclax</text>
<text class="bt" transform="translate(419.9 512.3) rotate(-90) scale(0.89 1)" text-anchor="end" font-size="6.63" dy="0.36em" fill="#1a1a1a">Venetoclax</text>
<line x1="445.4" y1="539.8" x2="445.4" y2="599.4" stroke="#1a1a1a" stroke-width="1.15" stroke-dasharray="1.6 2.5"/>
<path d="M294.5 491.3V599.4H513" fill="none" stroke="#2a2a2a" stroke-width="1.3"/>
<line x1="291.5" y1="599.4" x2="294.5" y2="599.4" stroke="#2a2a2a" stroke-width="1"/>
<text x="288.3" y="602.55" text-anchor="end" font-size="7.35" fill="#1a1a1a">0</text>
<line x1="291.5" y1="577.86" x2="294.5" y2="577.86" stroke="#2a2a2a" stroke-width="1"/>
<text x="288.3" y="581.01" text-anchor="end" font-size="7.35" fill="#1a1a1a">20</text>
<line x1="291.5" y1="556.32" x2="294.5" y2="556.32" stroke="#2a2a2a" stroke-width="1"/>
<text x="288.3" y="559.47" text-anchor="end" font-size="7.35" fill="#1a1a1a">40</text>
<line x1="291.5" y1="534.78" x2="294.5" y2="534.78" stroke="#2a2a2a" stroke-width="1"/>
<text x="288.3" y="537.93" text-anchor="end" font-size="7.35" fill="#1a1a1a">60</text>
<line x1="291.5" y1="513.24" x2="294.5" y2="513.24" stroke="#2a2a2a" stroke-width="1"/>
<text x="288.3" y="516.39" text-anchor="end" font-size="7.35" fill="#1a1a1a">80</text>
<line x1="291.5" y1="491.7" x2="294.5" y2="491.7" stroke="#2a2a2a" stroke-width="1"/>
<text x="288.3" y="494.85" text-anchor="end" font-size="7.35" fill="#1a1a1a">100</text>
<line x1="294.55" y1="599.4" x2="294.55" y2="602.3" stroke="#444" stroke-width="0.8"/>
<line x1="325.85" y1="599.4" x2="325.85" y2="602.3" stroke="#444" stroke-width="0.8"/>
<line x1="357.15" y1="599.4" x2="357.15" y2="602.3" stroke="#444" stroke-width="0.8"/>
<line x1="388.45" y1="599.4" x2="388.45" y2="602.3" stroke="#444" stroke-width="0.8"/>
<line x1="419.75" y1="599.4" x2="419.75" y2="602.3" stroke="#444" stroke-width="0.8"/>
<line x1="451.05" y1="599.4" x2="451.05" y2="602.3" stroke="#444" stroke-width="0.8"/>
<line x1="482.35" y1="599.4" x2="482.35" y2="602.3" stroke="#444" stroke-width="0.8"/>
<line x1="513.65" y1="599.4" x2="513.65" y2="602.3" stroke="#444" stroke-width="0.8"/>
<text transform="translate(312.8 607.9) rotate(-45)" text-anchor="end" font-size="7.8" fill="#1a1a1a">Dx</text>
<text transform="translate(344.1 607.9) rotate(-45)" text-anchor="end" font-size="7.8" fill="#1a1a1a">+0.5 m</text>
<text transform="translate(375.4 607.9) rotate(-45)" text-anchor="end" font-size="7.8" fill="#1a1a1a">+1 m</text>
<text transform="translate(406.7 607.9) rotate(-45)" text-anchor="end" font-size="7.8" fill="#1a1a1a">+2 m</text>
<text transform="translate(438 607.9) rotate(-45)" text-anchor="end" font-size="7.8" fill="#1a1a1a">+3 m</text>
<text transform="translate(469.3 607.9) rotate(-45)" text-anchor="end" font-size="7.8" fill="#1a1a1a">+4.5 m</text>
<text transform="translate(500.6 607.9) rotate(-45)" text-anchor="end" font-size="7.8" fill="#1a1a1a">+5.5 m</text>
<path d="M310.2 566.98L341.5 583.78L372.8 599.4" fill="none" stroke="#c90f34" stroke-width="1.25" stroke-linejoin="round"/>
<path d="M310.2 564.68L312.5 566.98L310.2 569.28L307.9 566.98Z" fill="#c90f34"/>
<path d="M341.5 581.48L343.8 583.78L341.5 586.08L339.2 583.78Z" fill="#c90f34"/>
<path d="M372.8 597.1L375.1 599.4L372.8 601.7L370.5 599.4Z" fill="#c90f34"/>
<path d="M372.8 599.4L404.1 599.4L435.4 599.4L466.7 599.4L498 599.4" fill="none" stroke="#0d4489" stroke-width="1.25" stroke-linejoin="round"/>
<rect x="370.9" y="597.5" width="3.8" height="3.8" fill="#0d4489"/>
<rect x="402.2" y="597.5" width="3.8" height="3.8" fill="#0d4489"/>
<rect x="433.5" y="597.5" width="3.8" height="3.8" fill="#0d4489"/>
<rect x="464.8" y="597.5" width="3.8" height="3.8" fill="#0d4489"/>
<rect x="496.1" y="597.5" width="3.8" height="3.8" fill="#0d4489"/>
<path d="M310.2 491.7L341.5 491.7L372.8 599.4L404.1 578.61L435.4 545.12L466.7 584.21L498 562.24" fill="none" stroke="#26ad3c" stroke-width="1.25" stroke-linejoin="round"/>
<path d="M310.2 489.4L312.3 493.4L308.1 493.4Z" fill="#26ad3c"/>
<path d="M341.5 489.4L343.6 493.4L339.4 493.4Z" fill="#26ad3c"/>
<path d="M372.8 597.1L374.9 601.1L370.7 601.1Z" fill="#26ad3c"/>
<path d="M404.1 576.31L406.2 580.31L402 580.31Z" fill="#26ad3c"/>
<path d="M435.4 542.82L437.5 546.82L433.3 546.82Z" fill="#26ad3c"/>
<path d="M466.7 581.91L468.8 585.91L464.6 585.91Z" fill="#26ad3c"/>
<path d="M498 559.94L500.1 563.94L495.9 563.94Z" fill="#26ad3c"/>
<text x="387" y="488.6" font-size="9.05" fill="#111">Patient 7</text>
<text x="436.3" y="526.5" text-anchor="start" font-size="6.7" fill="#1a1a1a">Haplo-HCT</text>
<text x="436.3" y="534.6" text-anchor="start" font-size="6.7" fill="#1a1a1a">(grandmother)</text>
<line x1="290.2" y1="33.9" x2="302.9" y2="33.9" stroke="#c90f34" stroke-width="1.3"/>
<path d="M296.55 31.6L298.85 33.9L296.55 36.2L294.25 33.9Z" fill="#c90f34"/>
<text x="305.6" y="36.5" font-size="7.0" fill="#1a1a1a">Bone marrow blasts</text>
<line x1="290.2" y1="43.35" x2="302.9" y2="43.35" stroke="#0d4489" stroke-width="1.3"/>
<rect x="294.65" y="41.45" width="3.8" height="3.8" fill="#0d4489"/>
<text x="305.6" y="45.95" font-size="7.0" fill="#1a1a1a">MRD by flow cytometry</text>
<line x1="290.2" y1="52.45" x2="302.9" y2="52.45" stroke="#26ad3c" stroke-width="1.3"/>
<path d="M296.55 50.15L298.65 54.15L294.45 54.15Z" fill="#26ad3c"/>
<text x="305.6" y="55.05" font-size="7.0" fill="#1a1a1a">Bone marrow cellularity</text>
<path d="M17.6 563V625.6H80" fill="none" stroke="#111" stroke-width="1.2"/>
<path d="M13.9 563.4L21.4 563.4L17.6 556.6Z" fill="#111"/>
<path d="M79.4 622L79.4 629L86.4 625.6Z" fill="#111"/>
<text transform="translate(14 602.3) rotate(-90)" text-anchor="start" font-size="7.3" fill="#1a1a1a">Percent</text>
<text x="28.4" y="633.8" text-anchor="start" font-size="7.3" fill="#1a1a1a">Follow-up time</text>
<rect x="0.5" y="0.5" width="519" height="640" fill="none" stroke="#000" stroke-width="1.2"/>
</svg>
</body></html>
